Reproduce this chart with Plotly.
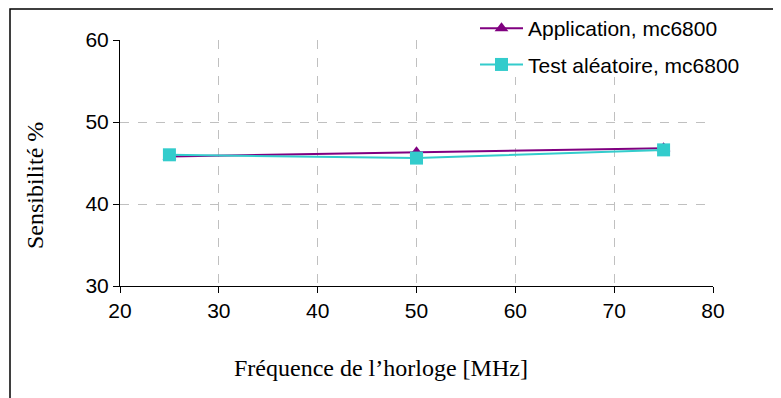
import plotly.graph_objects as go

freq = [25, 50, 75]
app_vals = [45.8, 46.3, 46.8]
test_vals = [46.0, 45.6, 46.6]
series_names = ["Application, mc6800", "Test aléatoire, mc6800"]
x_ticks = [20, 30, 40, 50, 60, 70, 80]
y_ticks = [30, 40, 50, 60]

# page offset of the plot div (body margin) is compensated
OFF = 8
W, H = 781 - OFF, 398 - OFF
L, R, T, B = 112, 68, 32, 112
pw, ph = W - L - R, H - T - B

def px(x):
    # page x pixel -> paper fraction
    return (x - OFF - L) / pw

def py(y):
    # page y pixel -> paper fraction
    return (H - B - (y - OFF)) / ph

fig = go.Figure()
fig.add_trace(go.Scatter(
    x=freq, y=app_vals, name=series_names[0], mode="lines+markers",
    line=dict(color="#800080", width=2),
    marker=dict(symbol="triangle-up", size=12, color="#800080"),
    legendgroup="a"))
fig.add_trace(go.Scatter(
    x=freq, y=test_vals, name=series_names[1], mode="lines+markers",
    line=dict(color="#33CCCC", width=2),
    marker=dict(symbol="square", size=13, color="#33CCCC"),
    legendgroup="b"))

axis_common = dict(
    showline=True, linecolor="black", linewidth=1,
    ticks="outside", ticklen=6, tickcolor="black",
    showgrid=True, gridcolor="#c0c0c0", griddash="dash", gridwidth=1,
    zeroline=False,
    tickfont=dict(family="Liberation Sans, Arial", size=21, color="black"),
)
fig.update_xaxes(range=[20, 80], tickvals=x_ticks, **axis_common)
fig.update_yaxes(range=[30, 60], tickvals=y_ticks, **axis_common)

fig.add_annotation(
    text="Fréquence de l’horloge [MHz]", xref="paper", yref="paper",
    x=px(381), y=py(368), xanchor="center", yanchor="middle", showarrow=False,
    font=dict(family="Liberation Serif, Times New Roman", size=24, color="black"))
fig.add_annotation(
    text="Sensibilité %", xref="paper", yref="paper", textangle=-90,
    x=px(35), y=py(186), xanchor="center", yanchor="middle", showarrow=False,
    font=dict(family="Liberation Serif, Times New Roman", size=24, color="black"))

fig.add_shape(type="rect", xref="paper", yref="paper",
              x0=px(10), x1=px(800), y0=py(420), y1=py(9),
              line=dict(color="black", width=1.5), layer="below")
# white legend backdrop
fig.add_shape(type="rect", xref="paper", yref="paper",
              x0=px(436), x1=px(779), y0=py(77), y1=py(10),
              line=dict(width=0), fillcolor="white", layer="above")

fig.update_layout(
    width=W, height=H,
    margin=dict(l=L, r=R, t=T, b=B, autoexpand=False),
    paper_bgcolor="white", plot_bgcolor="white",
    showlegend=True,
    legend=dict(
        xref="container", yref="container",
        x=(475 - OFF) / W, y=1.0, xanchor="left", yanchor="top",
        bgcolor="rgba(0,0,0,0)", traceorder="grouped", tracegroupgap=6,
        itemwidth=43,
        font=dict(family="Liberation Sans, Arial", size=21, color="black"),
    ),
)

fig.write_html("out.html")
